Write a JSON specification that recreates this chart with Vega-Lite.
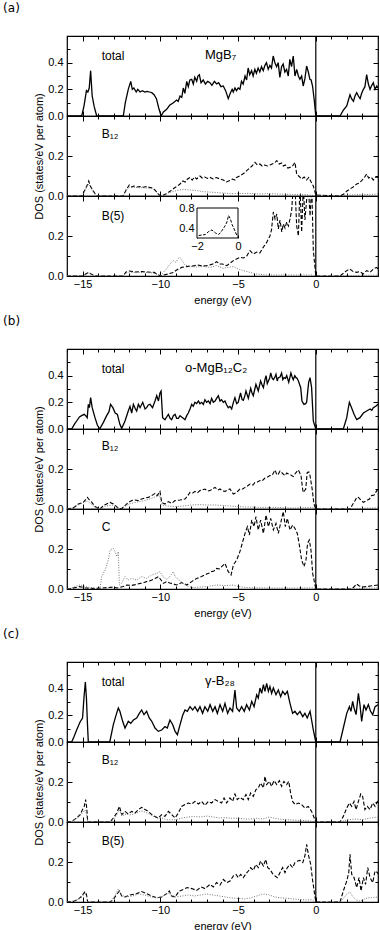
{
"$schema": "https://vega.github.io/schema/vega-lite/v6.json",
"padding": {"left": 3, "top": 1, "right": 2, "bottom": 0},
"spacing": 8,
"config": {
  "view": {"stroke": "black", "strokeWidth": 1.2},
  "axis": {"grid": false, "domain": false, "minExtent": 0, "tickColor": "black", "tickWidth": 1, "labelColor": "black", "labelFont": "Liberation Sans", "labelFontSize": 11, "titleFont": "Liberation Sans", "titleFontSize": 11, "titleFontWeight": "normal", "titleColor": "black"},
  "text": {"font": "Liberation Sans", "fontSize": 12, "color": "black"},
  "title": {"font": "DejaVu Sans", "fontSize": 12, "fontWeight": "normal", "color": "black"}
},
"datasets": {
"a_tot": [{"e":-16,"v":0},{"e":-15.05,"v":0},{"e":-14.9,"v":0.08},{"e":-14.75,"v":0.19},{"e":-14.66,"v":0.18},{"e":-14.57,"v":0.21},{"e":-14.48,"v":0.34},{"e":-14.38,"v":0.15},{"e":-14.25,"v":0.07},{"e":-14.09,"v":0},{"e":-12.38,"v":0},{"e":-12.25,"v":0.1},{"e":-12.06,"v":0.2},{"e":-11.9,"v":0.26},{"e":-11.8,"v":0.2},{"e":-11.7,"v":0.21},{"e":-11.55,"v":0.18},{"e":-11.45,"v":0.2},{"e":-11.3,"v":0.18},{"e":-11.15,"v":0.19},{"e":-11.0,"v":0.18},{"e":-10.85,"v":0.185},{"e":-10.7,"v":0.18},{"e":-10.55,"v":0.175},{"e":-10.4,"v":0.16},{"e":-10.25,"v":0.13},{"e":-10.1,"v":0.06},{"e":-9.95,"v":0},{"e":-9.8,"v":0.03},{"e":-9.59,"v":0.05},{"e":-9.4,"v":0.08},{"e":-9.16,"v":0.1},{"e":-8.95,"v":0.12},{"e":-8.85,"v":0.11},{"e":-8.73,"v":0.15},{"e":-8.62,"v":0.14},{"e":-8.52,"v":0.21},{"e":-8.42,"v":0.17},{"e":-8.3,"v":0.26},{"e":-8.2,"v":0.22},{"e":-8.1,"v":0.27},{"e":-7.98,"v":0.275},{"e":-7.88,"v":0.24},{"e":-7.78,"v":0.29},{"e":-7.66,"v":0.26},{"e":-7.58,"v":0.3},{"e":-7.49,"v":0.31},{"e":-7.38,"v":0.25},{"e":-7.24,"v":0.27},{"e":-7.1,"v":0.24},{"e":-6.95,"v":0.26},{"e":-6.81,"v":0.25},{"e":-6.68,"v":0.23},{"e":-6.52,"v":0.26},{"e":-6.38,"v":0.24},{"e":-6.25,"v":0.25},{"e":-6.1,"v":0.22},{"e":-5.95,"v":0.225},{"e":-5.8,"v":0.19},{"e":-5.63,"v":0.13},{"e":-5.5,"v":0.17},{"e":-5.38,"v":0.2},{"e":-5.31,"v":0.18},{"e":-5.2,"v":0.21},{"e":-5.1,"v":0.19},{"e":-4.99,"v":0.21},{"e":-4.88,"v":0.2},{"e":-4.78,"v":0.26},{"e":-4.67,"v":0.24},{"e":-4.55,"v":0.3},{"e":-4.45,"v":0.27},{"e":-4.35,"v":0.36},{"e":-4.25,"v":0.31},{"e":-4.13,"v":0.34},{"e":-4.03,"v":0.3},{"e":-3.92,"v":0.35},{"e":-3.82,"v":0.32},{"e":-3.71,"v":0.36},{"e":-3.6,"v":0.33},{"e":-3.49,"v":0.37},{"e":-3.38,"v":0.34},{"e":-3.27,"v":0.38},{"e":-3.17,"v":0.4},{"e":-3.06,"v":0.35},{"e":-2.95,"v":0.38},{"e":-2.85,"v":0.36},{"e":-2.74,"v":0.45},{"e":-2.63,"v":0.4},{"e":-2.52,"v":0.37},{"e":-2.42,"v":0.4},{"e":-2.31,"v":0.29},{"e":-2.2,"v":0.37},{"e":-2.1,"v":0.39},{"e":-1.99,"v":0.33},{"e":-1.88,"v":0.35},{"e":-1.77,"v":0.3},{"e":-1.67,"v":0.425},{"e":-1.56,"v":0.37},{"e":-1.45,"v":0.45},{"e":-1.34,"v":0.3},{"e":-1.23,"v":0.35},{"e":-1.12,"v":0.3},{"e":-1.02,"v":0.275},{"e":-0.91,"v":0.3},{"e":-0.81,"v":0.225},{"e":-0.7,"v":0.28},{"e":-0.59,"v":0.375},{"e":-0.48,"v":0.33},{"e":-0.38,"v":0.275},{"e":-0.3,"v":0.27},{"e":-0.21,"v":0.225},{"e":-0.1,"v":0.12},{"e":0,"v":0},{"e":1.56,"v":0},{"e":1.75,"v":0.04},{"e":1.99,"v":0.075},{"e":2.1,"v":0.12},{"e":2.2,"v":0.16},{"e":2.3,"v":0.13},{"e":2.42,"v":0.11},{"e":2.52,"v":0.15},{"e":2.63,"v":0.175},{"e":2.74,"v":0.15},{"e":2.85,"v":0.13},{"e":2.95,"v":0.17},{"e":3.06,"v":0.2},{"e":3.16,"v":0.22},{"e":3.27,"v":0.31},{"e":3.38,"v":0.24},{"e":3.49,"v":0.2},{"e":3.6,"v":0.23},{"e":3.7,"v":0.25},{"e":3.81,"v":0.2},{"e":3.92,"v":0.225},{"e":4,"v":0.21}],
"a_b12_d": [{"e":-16,"v":0},{"e":-15.05,"v":0},{"e":-14.85,"v":0.03},{"e":-14.7,"v":0.055},{"e":-14.6,"v":0.075},{"e":-14.5,"v":0.05},{"e":-14.35,"v":0.03},{"e":-14.1,"v":0},{"e":-12.4,"v":0},{"e":-12.2,"v":0.03},{"e":-12.0,"v":0.055},{"e":-11.85,"v":0.045},{"e":-11.7,"v":0.05},{"e":-11.5,"v":0.045},{"e":-11.3,"v":0.047},{"e":-11.1,"v":0.044},{"e":-10.9,"v":0.047},{"e":-10.7,"v":0.043},{"e":-10.5,"v":0.04},{"e":-10.35,"v":0.03},{"e":-10.15,"v":0.012},{"e":-10.0,"v":0},{"e":-9.8,"v":0.005},{"e":-9.59,"v":0.012},{"e":-9.35,"v":0.025},{"e":-9.1,"v":0.04},{"e":-8.9,"v":0.05},{"e":-8.73,"v":0.06},{"e":-8.55,"v":0.075},{"e":-8.4,"v":0.07},{"e":-8.25,"v":0.085},{"e":-8.09,"v":0.093},{"e":-7.95,"v":0.08},{"e":-7.8,"v":0.095},{"e":-7.66,"v":0.085},{"e":-7.45,"v":0.1},{"e":-7.3,"v":0.09},{"e":-7.15,"v":0.095},{"e":-6.95,"v":0.088},{"e":-6.8,"v":0.093},{"e":-6.6,"v":0.085},{"e":-6.4,"v":0.092},{"e":-6.16,"v":0.085},{"e":-5.95,"v":0.08},{"e":-5.75,"v":0.07},{"e":-5.52,"v":0.077},{"e":-5.35,"v":0.085},{"e":-5.2,"v":0.08},{"e":-5.09,"v":0.093},{"e":-4.9,"v":0.1},{"e":-4.7,"v":0.11},{"e":-4.55,"v":0.118},{"e":-4.44,"v":0.127},{"e":-4.25,"v":0.14},{"e":-4.1,"v":0.15},{"e":-3.91,"v":0.168},{"e":-3.75,"v":0.155},{"e":-3.6,"v":0.16},{"e":-3.45,"v":0.15},{"e":-3.3,"v":0.155},{"e":-3.1,"v":0.15},{"e":-2.95,"v":0.155},{"e":-2.8,"v":0.16},{"e":-2.65,"v":0.165},{"e":-2.51,"v":0.177},{"e":-2.35,"v":0.16},{"e":-2.2,"v":0.165},{"e":-2.09,"v":0.15},{"e":-1.95,"v":0.155},{"e":-1.8,"v":0.14},{"e":-1.66,"v":0.143},{"e":-1.5,"v":0.15},{"e":-1.34,"v":0.168},{"e":-1.23,"v":0.11},{"e":-1.1,"v":0.1},{"e":-0.91,"v":0.085},{"e":-0.75,"v":0.095},{"e":-0.6,"v":0.08},{"e":-0.45,"v":0.093},{"e":-0.3,"v":0.07},{"e":-0.16,"v":0.05},{"e":0,"v":0.005},{"e":1.56,"v":0},{"e":1.8,"v":0.01},{"e":2.0,"v":0.025},{"e":2.2,"v":0.035},{"e":2.4,"v":0.045},{"e":2.63,"v":0.06},{"e":2.8,"v":0.065},{"e":2.95,"v":0.077},{"e":3.1,"v":0.09},{"e":3.27,"v":0.11},{"e":3.4,"v":0.09},{"e":3.55,"v":0.095},{"e":3.7,"v":0.08},{"e":3.85,"v":0.095},{"e":4.0,"v":0.093}],
"a_b12_t": [{"e":-16,"v":0},{"e":-15.05,"v":0},{"e":-14.85,"v":0.025},{"e":-14.7,"v":0.05},{"e":-14.6,"v":0.06},{"e":-14.5,"v":0.045},{"e":-14.35,"v":0.025},{"e":-14.1,"v":0},{"e":-12.4,"v":0},{"e":-12.2,"v":0.025},{"e":-12.0,"v":0.045},{"e":-11.7,"v":0.043},{"e":-11.3,"v":0.042},{"e":-10.9,"v":0.04},{"e":-10.6,"v":0.038},{"e":-10.4,"v":0.03},{"e":-10.15,"v":0.01},{"e":-10.0,"v":0},{"e":-9.7,"v":0.01},{"e":-9.3,"v":0.02},{"e":-8.9,"v":0.028},{"e":-8.5,"v":0.033},{"e":-8.1,"v":0.03},{"e":-7.7,"v":0.028},{"e":-7.3,"v":0.022},{"e":-6.9,"v":0.02},{"e":-6.5,"v":0.018},{"e":-6.0,"v":0.015},{"e":-5.5,"v":0.012},{"e":-5.0,"v":0.012},{"e":-4.5,"v":0.013},{"e":-4.0,"v":0.012},{"e":-3.5,"v":0.01},{"e":-3.0,"v":0.012},{"e":-2.5,"v":0.01},{"e":-2.0,"v":0.009},{"e":-1.5,"v":0.008},{"e":-1.0,"v":0.007},{"e":-0.5,"v":0.006},{"e":0,"v":0},{"e":1.56,"v":0},{"e":2.0,"v":0.004},{"e":2.5,"v":0.006},{"e":3.0,"v":0.008},{"e":3.5,"v":0.007},{"e":4.0,"v":0.01}],
"a_b5_d": [{"e":-16,"v":0},{"e":-15.0,"v":0},{"e":-14.75,"v":0.012},{"e":-14.6,"v":0.018},{"e":-14.45,"v":0.01},{"e":-14.2,"v":0},{"e":-12.4,"v":0},{"e":-12.2,"v":0.02},{"e":-12.0,"v":0.025},{"e":-11.6,"v":0.02},{"e":-11.2,"v":0.022},{"e":-10.8,"v":0.02},{"e":-10.4,"v":0.018},{"e":-10.15,"v":0.008},{"e":-10.0,"v":0},{"e":-9.81,"v":0.005},{"e":-9.5,"v":0.01},{"e":-9.16,"v":0.018},{"e":-8.95,"v":0.03},{"e":-8.84,"v":0.035},{"e":-8.62,"v":0.043},{"e":-8.45,"v":0.045},{"e":-8.2,"v":0.048},{"e":-7.9,"v":0.05},{"e":-7.6,"v":0.055},{"e":-7.3,"v":0.05},{"e":-7.0,"v":0.052},{"e":-6.7,"v":0.058},{"e":-6.5,"v":0.065},{"e":-6.37,"v":0.072},{"e":-6.2,"v":0.06},{"e":-6.0,"v":0.06},{"e":-5.73,"v":0.052},{"e":-5.5,"v":0.065},{"e":-5.3,"v":0.077},{"e":-5.1,"v":0.085},{"e":-4.87,"v":0.093},{"e":-4.65,"v":0.09},{"e":-4.44,"v":0.1},{"e":-4.23,"v":0.127},{"e":-4.02,"v":0.11},{"e":-3.8,"v":0.12},{"e":-3.6,"v":0.115},{"e":-3.38,"v":0.143},{"e":-3.16,"v":0.168},{"e":-2.95,"v":0.2},{"e":-2.85,"v":0.23},{"e":-2.73,"v":0.32},{"e":-2.62,"v":0.285},{"e":-2.51,"v":0.31},{"e":-2.41,"v":0.235},{"e":-2.3,"v":0.28},{"e":-2.19,"v":0.22},{"e":-2.09,"v":0.26},{"e":-1.98,"v":0.24},{"e":-1.87,"v":0.27},{"e":-1.76,"v":0.25},{"e":-1.66,"v":0.285},{"e":-1.55,"v":0.33},{"e":-1.45,"v":0.45},{"e":-1.34,"v":0.45},{"e":-1.23,"v":0.25},{"e":-1.12,"v":0.2},{"e":-1.02,"v":0.45},{"e":-0.91,"v":0.22},{"e":-0.8,"v":0.45},{"e":-0.7,"v":0.28},{"e":-0.59,"v":0.38},{"e":-0.48,"v":0.45},{"e":-0.37,"v":0.3},{"e":-0.26,"v":0.45},{"e":-0.16,"v":0.13},{"e":0,"v":0},{"e":1.56,"v":0},{"e":1.99,"v":0.027},{"e":2.2,"v":0.035},{"e":2.4,"v":0.022},{"e":2.63,"v":0.018},{"e":2.84,"v":0.022},{"e":3.06,"v":0.01},{"e":3.27,"v":0.027},{"e":3.49,"v":0.018},{"e":3.7,"v":0.035},{"e":3.92,"v":0.043},{"e":4.0,"v":0.035}],
"a_b5_t": [{"e":-16,"v":0},{"e":-15.0,"v":0},{"e":-14.75,"v":0.01},{"e":-14.6,"v":0.018},{"e":-14.45,"v":0.008},{"e":-14.2,"v":0},{"e":-12.4,"v":0},{"e":-12.2,"v":0.015},{"e":-12.0,"v":0.02},{"e":-11.5,"v":0.017},{"e":-11.0,"v":0.018},{"e":-10.5,"v":0.015},{"e":-10.2,"v":0.008},{"e":-10.0,"v":0},{"e":-9.81,"v":0.018},{"e":-9.6,"v":0.035},{"e":-9.38,"v":0.06},{"e":-9.16,"v":0.077},{"e":-9.0,"v":0.068},{"e":-8.84,"v":0.088},{"e":-8.73,"v":0.093},{"e":-8.6,"v":0.077},{"e":-8.41,"v":0.055},{"e":-8.1,"v":0.048},{"e":-7.66,"v":0.045},{"e":-7.24,"v":0.048},{"e":-6.8,"v":0.043},{"e":-6.38,"v":0.052},{"e":-5.95,"v":0.038},{"e":-5.73,"v":0.043},{"e":-5.3,"v":0.047},{"e":-4.98,"v":0.035},{"e":-4.66,"v":0.027},{"e":-4.23,"v":0.018},{"e":-3.8,"v":0.01},{"e":-3.16,"v":0.005},{"e":-2,"v":0.005},{"e":-1,"v":0.005},{"e":-0.2,"v":0.005},{"e":0,"v":0},{"e":1.56,"v":0},{"e":2.5,"v":0.003},{"e":4,"v":0.004}],
"a_inset": [{"e":-1.92,"v":0.25},{"e":-1.76,"v":0.26},{"e":-1.59,"v":0.27},{"e":-1.43,"v":0.33},{"e":-1.27,"v":0.36},{"e":-1.1,"v":0.3},{"e":-0.94,"v":0.27},{"e":-0.83,"v":0.32},{"e":-0.73,"v":0.38},{"e":-0.62,"v":0.45},{"e":-0.54,"v":0.52},{"e":-0.46,"v":0.65},{"e":-0.37,"v":0.58},{"e":-0.29,"v":0.47},{"e":-0.21,"v":0.4},{"e":-0.13,"v":0.32},{"e":-0.05,"v":0.25}],
"b_tot": [{"e":-16,"v":0},{"e":-15.7,"v":0},{"e":-15.5,"v":0.04},{"e":-15.38,"v":0.06},{"e":-15.2,"v":0.09},{"e":-15.06,"v":0.1},{"e":-14.9,"v":0.11},{"e":-14.8,"v":0.1},{"e":-14.7,"v":0.085},{"e":-14.63,"v":0.185},{"e":-14.56,"v":0.16},{"e":-14.48,"v":0.235},{"e":-14.38,"v":0.16},{"e":-14.2,"v":0.085},{"e":-14.05,"v":0.03},{"e":-13.9,"v":0},{"e":-13.66,"v":0.05},{"e":-13.45,"v":0.1},{"e":-13.3,"v":0.13},{"e":-13.2,"v":0.185},{"e":-13.05,"v":0.16},{"e":-12.9,"v":0.12},{"e":-12.76,"v":0.11},{"e":-12.6,"v":0.035},{"e":-12.48,"v":0.005},{"e":-12.27,"v":0.06},{"e":-12.06,"v":0.135},{"e":-11.95,"v":0.17},{"e":-11.84,"v":0.12},{"e":-11.73,"v":0.185},{"e":-11.6,"v":0.15},{"e":-11.52,"v":0.135},{"e":-11.41,"v":0.185},{"e":-11.3,"v":0.16},{"e":-11.13,"v":0.2},{"e":-10.98,"v":0.15},{"e":-10.88,"v":0.16},{"e":-10.77,"v":0.18},{"e":-10.66,"v":0.185},{"e":-10.5,"v":0.16},{"e":-10.34,"v":0.21},{"e":-10.23,"v":0.25},{"e":-10.12,"v":0.21},{"e":-10.02,"v":0.27},{"e":-9.95,"v":0.285},{"e":-9.85,"v":0.085},{"e":-9.7,"v":0.07},{"e":-9.59,"v":0.09},{"e":-9.48,"v":0.11},{"e":-9.37,"v":0.08},{"e":-9.27,"v":0.07},{"e":-9.16,"v":0.1},{"e":-9.05,"v":0.11},{"e":-8.95,"v":0.08},{"e":-8.84,"v":0.08},{"e":-8.73,"v":0.1},{"e":-8.63,"v":0.09},{"e":-8.52,"v":0.08},{"e":-8.41,"v":0.07},{"e":-8.3,"v":0.1},{"e":-8.2,"v":0.12},{"e":-8.09,"v":0.15},{"e":-7.98,"v":0.185},{"e":-7.88,"v":0.17},{"e":-7.77,"v":0.2},{"e":-7.66,"v":0.19},{"e":-7.55,"v":0.21},{"e":-7.45,"v":0.19},{"e":-7.34,"v":0.2},{"e":-7.23,"v":0.185},{"e":-7.13,"v":0.22},{"e":-7.02,"v":0.2},{"e":-6.91,"v":0.21},{"e":-6.8,"v":0.19},{"e":-6.7,"v":0.23},{"e":-6.59,"v":0.2},{"e":-6.48,"v":0.21},{"e":-6.38,"v":0.23},{"e":-6.27,"v":0.25},{"e":-6.16,"v":0.21},{"e":-6.06,"v":0.22},{"e":-5.95,"v":0.2},{"e":-5.84,"v":0.21},{"e":-5.73,"v":0.18},{"e":-5.63,"v":0.16},{"e":-5.52,"v":0.17},{"e":-5.41,"v":0.15},{"e":-5.3,"v":0.2},{"e":-5.2,"v":0.235},{"e":-5.09,"v":0.19},{"e":-4.99,"v":0.2},{"e":-4.84,"v":0.27},{"e":-4.74,"v":0.22},{"e":-4.66,"v":0.215},{"e":-4.56,"v":0.25},{"e":-4.49,"v":0.285},{"e":-4.34,"v":0.23},{"e":-4.19,"v":0.305},{"e":-4.1,"v":0.27},{"e":-4.02,"v":0.25},{"e":-3.92,"v":0.3},{"e":-3.85,"v":0.335},{"e":-3.7,"v":0.285},{"e":-3.55,"v":0.36},{"e":-3.45,"v":0.33},{"e":-3.37,"v":0.31},{"e":-3.27,"v":0.37},{"e":-3.2,"v":0.4},{"e":-3.12,"v":0.34},{"e":-3.05,"v":0.36},{"e":-2.97,"v":0.38},{"e":-2.9,"v":0.42},{"e":-2.8,"v":0.38},{"e":-2.73,"v":0.37},{"e":-2.63,"v":0.39},{"e":-2.56,"v":0.41},{"e":-2.48,"v":0.36},{"e":-2.41,"v":0.385},{"e":-2.3,"v":0.39},{"e":-2.2,"v":0.42},{"e":-2.12,"v":0.37},{"e":-2.05,"v":0.385},{"e":-1.95,"v":0.38},{"e":-1.87,"v":0.4},{"e":-1.74,"v":0.35},{"e":-1.6,"v":0.42},{"e":-1.52,"v":0.39},{"e":-1.45,"v":0.37},{"e":-1.35,"v":0.4},{"e":-1.27,"v":0.385},{"e":-1.2,"v":0.38},{"e":-1.12,"v":0.36},{"e":-0.97,"v":0.31},{"e":-0.89,"v":0.21},{"e":-0.76,"v":0.185},{"e":-0.65,"v":0.19},{"e":-0.59,"v":0.2},{"e":-0.46,"v":0.35},{"e":-0.37,"v":0.385},{"e":-0.27,"v":0.31},{"e":-0.16,"v":0.06},{"e":0,"v":0},{"e":1.77,"v":0},{"e":1.99,"v":0.085},{"e":2.08,"v":0.15},{"e":2.16,"v":0.2},{"e":2.3,"v":0.16},{"e":2.46,"v":0.11},{"e":2.63,"v":0.07},{"e":2.84,"v":0.085},{"e":3.06,"v":0.12},{"e":3.27,"v":0.135},{"e":3.49,"v":0.15},{"e":3.6,"v":0.14},{"e":3.7,"v":0.16},{"e":3.85,"v":0.17},{"e":4.0,"v":0.185}],
"b_b12_d": [{"e":-16,"v":0},{"e":-15.6,"v":0.005},{"e":-15.27,"v":0.025},{"e":-14.95,"v":0.033},{"e":-14.69,"v":0.058},{"e":-14.56,"v":0.045},{"e":-14.4,"v":0.033},{"e":-14.2,"v":0.012},{"e":-13.88,"v":0},{"e":-13.66,"v":0.017},{"e":-13.45,"v":0.025},{"e":-13.23,"v":0.033},{"e":-13.02,"v":0.025},{"e":-12.7,"v":0.005},{"e":-12.5,"v":0},{"e":-12.27,"v":0.017},{"e":-12.06,"v":0.033},{"e":-11.84,"v":0.042},{"e":-11.63,"v":0.045},{"e":-11.41,"v":0.042},{"e":-11.2,"v":0.05},{"e":-10.98,"v":0.055},{"e":-10.77,"v":0.058},{"e":-10.55,"v":0.067},{"e":-10.34,"v":0.078},{"e":-10.2,"v":0.067},{"e":-10.02,"v":0.088},{"e":-9.91,"v":0.033},{"e":-9.7,"v":0.025},{"e":-9.48,"v":0.037},{"e":-9.27,"v":0.028},{"e":-9.05,"v":0.042},{"e":-8.73,"v":0.045},{"e":-8.41,"v":0.05},{"e":-8.25,"v":0.065},{"e":-8.09,"v":0.083},{"e":-7.9,"v":0.08},{"e":-7.77,"v":0.088},{"e":-7.6,"v":0.082},{"e":-7.45,"v":0.092},{"e":-7.3,"v":0.095},{"e":-7.13,"v":0.1},{"e":-6.95,"v":0.09},{"e":-6.8,"v":0.092},{"e":-6.65,"v":0.1},{"e":-6.48,"v":0.108},{"e":-6.3,"v":0.095},{"e":-6.16,"v":0.1},{"e":-6.0,"v":0.09},{"e":-5.84,"v":0.088},{"e":-5.68,"v":0.095},{"e":-5.52,"v":0.1},{"e":-5.4,"v":0.085},{"e":-5.3,"v":0.075},{"e":-5.09,"v":0.083},{"e":-4.88,"v":0.1},{"e":-4.7,"v":0.1},{"e":-4.55,"v":0.108},{"e":-4.4,"v":0.115},{"e":-4.23,"v":0.125},{"e":-4.05,"v":0.12},{"e":-3.91,"v":0.133},{"e":-3.75,"v":0.135},{"e":-3.59,"v":0.142},{"e":-3.45,"v":0.14},{"e":-3.27,"v":0.155},{"e":-3.1,"v":0.16},{"e":-2.95,"v":0.167},{"e":-2.8,"v":0.17},{"e":-2.62,"v":0.195},{"e":-2.5,"v":0.17},{"e":-2.41,"v":0.175},{"e":-2.3,"v":0.19},{"e":-2.2,"v":0.183},{"e":-2.1,"v":0.175},{"e":-1.98,"v":0.167},{"e":-1.87,"v":0.18},{"e":-1.76,"v":0.175},{"e":-1.6,"v":0.17},{"e":-1.45,"v":0.162},{"e":-1.3,"v":0.18},{"e":-1.12,"v":0.195},{"e":-0.95,"v":0.167},{"e":-0.85,"v":0.1},{"e":-0.8,"v":0.083},{"e":-0.65,"v":0.1},{"e":-0.55,"v":0.183},{"e":-0.45,"v":0.185},{"e":-0.37,"v":0.167},{"e":-0.22,"v":0.092},{"e":-0.12,"v":0.025},{"e":0,"v":0},{"e":2.2,"v":0},{"e":2.35,"v":0.02},{"e":2.52,"v":0.042},{"e":2.65,"v":0.06},{"e":2.74,"v":0.058},{"e":2.9,"v":0.045},{"e":3.06,"v":0.033},{"e":3.27,"v":0.042},{"e":3.45,"v":0.05},{"e":3.59,"v":0.067},{"e":3.75,"v":0.07},{"e":3.92,"v":0.092},{"e":4.0,"v":0.1}],
"b_b12_t": [{"e":-16,"v":0},{"e":-15.6,"v":0.005},{"e":-15.3,"v":0.02},{"e":-14.7,"v":0.04},{"e":-14.2,"v":0.01},{"e":-13.9,"v":0},{"e":-13.5,"v":0.015},{"e":-13.1,"v":0.02},{"e":-12.6,"v":0},{"e":-12.0,"v":0.025},{"e":-11.5,"v":0.035},{"e":-11.0,"v":0.042},{"e":-10.5,"v":0.055},{"e":-10.2,"v":0.065},{"e":-10.05,"v":0.07},{"e":-9.9,"v":0.02},{"e":-9.5,"v":0.015},{"e":-9.0,"v":0.012},{"e":-8.5,"v":0.015},{"e":-8.0,"v":0.02},{"e":-7.5,"v":0.022},{"e":-7.0,"v":0.02},{"e":-6.5,"v":0.02},{"e":-6.0,"v":0.018},{"e":-5.5,"v":0.015},{"e":-5.0,"v":0.012},{"e":-4.5,"v":0.01},{"e":-4.0,"v":0.01},{"e":-3.5,"v":0.008},{"e":-3.0,"v":0.008},{"e":-2.5,"v":0.008},{"e":-2.0,"v":0.006},{"e":-1.5,"v":0.005},{"e":-1.0,"v":0.005},{"e":-0.5,"v":0.008},{"e":-0.2,"v":0.008},{"e":0,"v":0},{"e":2.2,"v":0},{"e":3,"v":0.004},{"e":4,"v":0.006}],
"b_c_d": [{"e":-16,"v":0},{"e":-15.7,"v":0.003},{"e":-15.2,"v":0.012},{"e":-14.8,"v":0.005},{"e":-14.2,"v":0.003},{"e":-13.7,"v":0.005},{"e":-13.0,"v":0.01},{"e":-12.8,"v":0.005},{"e":-12.6,"v":0.008},{"e":-12.38,"v":0.012},{"e":-12.15,"v":0.02},{"e":-11.84,"v":0.018},{"e":-11.6,"v":0.022},{"e":-11.3,"v":0.028},{"e":-11.1,"v":0.03},{"e":-10.88,"v":0.037},{"e":-10.7,"v":0.04},{"e":-10.55,"v":0.045},{"e":-10.34,"v":0.053},{"e":-10.12,"v":0.062},{"e":-10.0,"v":0.05},{"e":-9.8,"v":0.028},{"e":-9.59,"v":0.037},{"e":-9.4,"v":0.03},{"e":-9.27,"v":0.028},{"e":-8.95,"v":0.02},{"e":-8.63,"v":0.032},{"e":-8.3,"v":0.02},{"e":-7.98,"v":0.037},{"e":-7.66,"v":0.053},{"e":-7.5,"v":0.058},{"e":-7.34,"v":0.062},{"e":-7.15,"v":0.07},{"e":-7.02,"v":0.075},{"e":-6.85,"v":0.08},{"e":-6.7,"v":0.087},{"e":-6.55,"v":0.09},{"e":-6.38,"v":0.103},{"e":-6.2,"v":0.1},{"e":-6.05,"v":0.112},{"e":-5.84,"v":0.128},{"e":-5.63,"v":0.087},{"e":-5.45,"v":0.07},{"e":-5.3,"v":0.12},{"e":-5.09,"v":0.145},{"e":-4.88,"v":0.187},{"e":-4.7,"v":0.237},{"e":-4.55,"v":0.278},{"e":-4.4,"v":0.312},{"e":-4.27,"v":0.27},{"e":-4.12,"v":0.345},{"e":-3.97,"v":0.312},{"e":-3.85,"v":0.362},{"e":-3.7,"v":0.295},{"e":-3.55,"v":0.345},{"e":-3.37,"v":0.278},{"e":-3.2,"v":0.37},{"e":-3.05,"v":0.312},{"e":-2.9,"v":0.353},{"e":-2.73,"v":0.295},{"e":-2.56,"v":0.328},{"e":-2.41,"v":0.278},{"e":-2.24,"v":0.337},{"e":-2.09,"v":0.387},{"e":-1.96,"v":0.312},{"e":-1.83,"v":0.353},{"e":-1.66,"v":0.295},{"e":-1.49,"v":0.32},{"e":-1.34,"v":0.303},{"e":-1.19,"v":0.278},{"e":-1.06,"v":0.22},{"e":-0.91,"v":0.145},{"e":-0.76,"v":0.112},{"e":-0.63,"v":0.145},{"e":-0.53,"v":0.228},{"e":-0.42,"v":0.245},{"e":-0.31,"v":0.195},{"e":-0.2,"v":0.078},{"e":0,"v":0},{"e":2.3,"v":0},{"e":2.45,"v":0.01},{"e":2.63,"v":0.025},{"e":2.8,"v":0.015},{"e":3.0,"v":0.01},{"e":3.27,"v":0.012},{"e":3.5,"v":0.015},{"e":3.7,"v":0.017},{"e":4.0,"v":0.02}],
"b_c_t": [{"e":-16,"v":0},{"e":-15.7,"v":0.005},{"e":-15.4,"v":0.015},{"e":-15.16,"v":0.02},{"e":-14.8,"v":0.012},{"e":-14.2,"v":0.003},{"e":-13.88,"v":0.003},{"e":-13.77,"v":0.062},{"e":-13.55,"v":0.095},{"e":-13.34,"v":0.145},{"e":-13.23,"v":0.195},{"e":-13.1,"v":0.2},{"e":-13.02,"v":0.203},{"e":-12.91,"v":0.187},{"e":-12.8,"v":0.162},{"e":-12.7,"v":0.187},{"e":-12.63,"v":0.02},{"e":-12.5,"v":0.028},{"e":-12.27,"v":0.062},{"e":-12.06,"v":0.045},{"e":-11.84,"v":0.053},{"e":-11.52,"v":0.045},{"e":-11.2,"v":0.062},{"e":-10.88,"v":0.053},{"e":-10.55,"v":0.07},{"e":-10.23,"v":0.078},{"e":-10.02,"v":0.087},{"e":-9.85,"v":0.062},{"e":-9.59,"v":0.048},{"e":-9.38,"v":0.062},{"e":-9.16,"v":0.087},{"e":-9.05,"v":0.062},{"e":-8.84,"v":0.048},{"e":-8.52,"v":0.028},{"e":-8.2,"v":0.012},{"e":-7.88,"v":0.007},{"e":-7.02,"v":0.012},{"e":-6.38,"v":0.02},{"e":-5.73,"v":0.017},{"e":-5.3,"v":0.02},{"e":-4.98,"v":0.012},{"e":-4.44,"v":0.007},{"e":-3,"v":0.005},{"e":-1,"v":0.005},{"e":-0.2,"v":0.006},{"e":0,"v":0},{"e":2.3,"v":0},{"e":3,"v":0.004},{"e":4,"v":0.005}],
"c_tot": [{"e":-16,"v":0},{"e":-15.7,"v":0},{"e":-15.55,"v":0.04},{"e":-15.38,"v":0.09},{"e":-15.16,"v":0.15},{"e":-15.0,"v":0.18},{"e":-14.91,"v":0.33},{"e":-14.82,"v":0.45},{"e":-14.75,"v":0.33},{"e":-14.69,"v":0.15},{"e":-14.63,"v":0},{"e":-13.25,"v":0},{"e":-13.02,"v":0.13},{"e":-12.85,"v":0.2},{"e":-12.7,"v":0.255},{"e":-12.6,"v":0.23},{"e":-12.42,"v":0.155},{"e":-12.27,"v":0.105},{"e":-12.16,"v":0.13},{"e":-12.06,"v":0.155},{"e":-11.9,"v":0.14},{"e":-11.73,"v":0.165},{"e":-11.52,"v":0.18},{"e":-11.35,"v":0.215},{"e":-11.2,"v":0.24},{"e":-11.05,"v":0.205},{"e":-10.88,"v":0.23},{"e":-10.71,"v":0.18},{"e":-10.55,"v":0.155},{"e":-10.34,"v":0.105},{"e":-10.13,"v":0.08},{"e":-9.91,"v":0.09},{"e":-9.7,"v":0.115},{"e":-9.55,"v":0.105},{"e":-9.38,"v":0.165},{"e":-9.2,"v":0.13},{"e":-9.05,"v":0.08},{"e":-8.9,"v":0.055},{"e":-8.73,"v":0.13},{"e":-8.56,"v":0.2},{"e":-8.41,"v":0.24},{"e":-8.26,"v":0.23},{"e":-8.09,"v":0.265},{"e":-7.92,"v":0.24},{"e":-7.77,"v":0.265},{"e":-7.6,"v":0.23},{"e":-7.45,"v":0.265},{"e":-7.28,"v":0.215},{"e":-7.13,"v":0.265},{"e":-6.95,"v":0.23},{"e":-6.8,"v":0.28},{"e":-6.63,"v":0.23},{"e":-6.48,"v":0.265},{"e":-6.33,"v":0.215},{"e":-6.16,"v":0.28},{"e":-5.99,"v":0.23},{"e":-5.84,"v":0.29},{"e":-5.67,"v":0.215},{"e":-5.52,"v":0.255},{"e":-5.35,"v":0.23},{"e":-5.2,"v":0.39},{"e":-5.09,"v":0.255},{"e":-4.92,"v":0.23},{"e":-4.77,"v":0.265},{"e":-4.6,"v":0.23},{"e":-4.45,"v":0.28},{"e":-4.27,"v":0.24},{"e":-4.12,"v":0.305},{"e":-3.97,"v":0.265},{"e":-3.8,"v":0.355},{"e":-3.7,"v":0.33},{"e":-3.59,"v":0.405},{"e":-3.48,"v":0.365},{"e":-3.37,"v":0.43},{"e":-3.27,"v":0.38},{"e":-3.16,"v":0.44},{"e":-3.05,"v":0.38},{"e":-2.95,"v":0.415},{"e":-2.84,"v":0.365},{"e":-2.73,"v":0.405},{"e":-2.56,"v":0.355},{"e":-2.41,"v":0.39},{"e":-2.26,"v":0.34},{"e":-2.13,"v":0.38},{"e":-1.98,"v":0.355},{"e":-1.83,"v":0.38},{"e":-1.66,"v":0.29},{"e":-1.49,"v":0.215},{"e":-1.34,"v":0.23},{"e":-1.19,"v":0.205},{"e":-1.02,"v":0.23},{"e":-0.84,"v":0.19},{"e":-0.7,"v":0.215},{"e":-0.55,"v":0.18},{"e":-0.37,"v":0.23},{"e":-0.27,"v":0.165},{"e":-0.16,"v":0.09},{"e":0,"v":0},{"e":1.56,"v":0},{"e":1.77,"v":0.105},{"e":1.99,"v":0.215},{"e":2.16,"v":0.265},{"e":2.26,"v":0.23},{"e":2.37,"v":0.305},{"e":2.46,"v":0.255},{"e":2.59,"v":0.205},{"e":2.74,"v":0.365},{"e":2.84,"v":0.28},{"e":2.95,"v":0.155},{"e":3.1,"v":0.28},{"e":3.23,"v":0.24},{"e":3.38,"v":0.28},{"e":3.52,"v":0.23},{"e":3.66,"v":0.205},{"e":3.81,"v":0.265},{"e":4.0,"v":0.28}],
"c_b12_d": [{"e":-16,"v":0},{"e":-15.7,"v":0.003},{"e":-15.38,"v":0.02},{"e":-15.16,"v":0.037},{"e":-15.0,"v":0.062},{"e":-14.89,"v":0.078},{"e":-14.8,"v":0.112},{"e":-14.73,"v":0.07},{"e":-14.67,"v":0},{"e":-13.23,"v":0},{"e":-13.02,"v":0.02},{"e":-12.8,"v":0.045},{"e":-12.63,"v":0.078},{"e":-12.48,"v":0.037},{"e":-12.27,"v":0.053},{"e":-12.06,"v":0.04},{"e":-11.84,"v":0.053},{"e":-11.63,"v":0.045},{"e":-11.41,"v":0.062},{"e":-11.2,"v":0.073},{"e":-10.98,"v":0.062},{"e":-10.77,"v":0.053},{"e":-10.55,"v":0.037},{"e":-10.34,"v":0.028},{"e":-10.13,"v":0.02},{"e":-9.91,"v":0.037},{"e":-9.7,"v":0.028},{"e":-9.48,"v":0.053},{"e":-9.27,"v":0.037},{"e":-9.05,"v":0.02},{"e":-8.84,"v":0.045},{"e":-8.63,"v":0.078},{"e":-8.41,"v":0.087},{"e":-8.2,"v":0.095},{"e":-7.98,"v":0.09},{"e":-7.77,"v":0.103},{"e":-7.55,"v":0.09},{"e":-7.34,"v":0.103},{"e":-7.13,"v":0.083},{"e":-6.91,"v":0.103},{"e":-6.7,"v":0.095},{"e":-6.48,"v":0.112},{"e":-6.27,"v":0.103},{"e":-6.06,"v":0.095},{"e":-5.9,"v":0.12},{"e":-5.73,"v":0.095},{"e":-5.52,"v":0.12},{"e":-5.35,"v":0.103},{"e":-5.2,"v":0.14},{"e":-5.05,"v":0.112},{"e":-4.88,"v":0.123},{"e":-4.66,"v":0.112},{"e":-4.49,"v":0.137},{"e":-4.34,"v":0.112},{"e":-4.19,"v":0.145},{"e":-4.02,"v":0.128},{"e":-3.85,"v":0.162},{"e":-3.7,"v":0.17},{"e":-3.55,"v":0.195},{"e":-3.37,"v":0.17},{"e":-3.27,"v":0.228},{"e":-3.16,"v":0.187},{"e":-2.99,"v":0.203},{"e":-2.84,"v":0.178},{"e":-2.69,"v":0.207},{"e":-2.51,"v":0.187},{"e":-2.34,"v":0.207},{"e":-2.2,"v":0.178},{"e":-2.05,"v":0.203},{"e":-1.87,"v":0.187},{"e":-1.74,"v":0.203},{"e":-1.62,"v":0.145},{"e":-1.49,"v":0.103},{"e":-1.34,"v":0.087},{"e":-1.12,"v":0.095},{"e":-0.91,"v":0.087},{"e":-0.7,"v":0.07},{"e":-0.48,"v":0.078},{"e":-0.27,"v":0.053},{"e":-0.1,"v":0.02},{"e":0,"v":0},{"e":1.56,"v":0},{"e":1.77,"v":0.028},{"e":1.99,"v":0.07},{"e":2.16,"v":0.095},{"e":2.31,"v":0.078},{"e":2.46,"v":0.103},{"e":2.59,"v":0.062},{"e":2.74,"v":0.103},{"e":2.89,"v":0.14},{"e":3.01,"v":0.128},{"e":3.16,"v":0.062},{"e":3.31,"v":0.078},{"e":3.49,"v":0.062},{"e":3.66,"v":0.095},{"e":3.81,"v":0.078},{"e":3.96,"v":0.103},{"e":4,"v":0.1}],
"c_b12_t": [{"e":-16,"v":0},{"e":-15.7,"v":0.003},{"e":-15.3,"v":0.02},{"e":-15.0,"v":0.045},{"e":-14.85,"v":0.06},{"e":-14.75,"v":0.04},{"e":-14.67,"v":0},{"e":-13.2,"v":0},{"e":-13.0,"v":0.015},{"e":-12.8,"v":0.035},{"e":-12.63,"v":0.06},{"e":-12.45,"v":0.03},{"e":-12.2,"v":0.04},{"e":-12.0,"v":0.035},{"e":-11.7,"v":0.04},{"e":-11.4,"v":0.05},{"e":-11.2,"v":0.055},{"e":-11.0,"v":0.05},{"e":-10.7,"v":0.04},{"e":-10.4,"v":0.025},{"e":-10.1,"v":0.015},{"e":-9.9,"v":0.02},{"e":-9.6,"v":0.012},{"e":-9.3,"v":0.01},{"e":-9.0,"v":0.012},{"e":-8.6,"v":0.02},{"e":-8.2,"v":0.025},{"e":-7.8,"v":0.028},{"e":-7.4,"v":0.025},{"e":-7.0,"v":0.03},{"e":-6.6,"v":0.025},{"e":-6.2,"v":0.02},{"e":-5.8,"v":0.022},{"e":-5.4,"v":0.018},{"e":-5.0,"v":0.02},{"e":-4.6,"v":0.015},{"e":-4.2,"v":0.015},{"e":-3.8,"v":0.018},{"e":-3.4,"v":0.015},{"e":-3.0,"v":0.025},{"e":-2.7,"v":0.02},{"e":-2.4,"v":0.015},{"e":-2.0,"v":0.012},{"e":-1.5,"v":0.01},{"e":-1.0,"v":0.008},{"e":-0.5,"v":0.006},{"e":0,"v":0},{"e":1.56,"v":0},{"e":2.0,"v":0.01},{"e":2.5,"v":0.015},{"e":3.0,"v":0.012},{"e":3.5,"v":0.02},{"e":4.0,"v":0.025}],
"c_b5_d": [{"e":-16,"v":0},{"e":-15.6,"v":0.003},{"e":-15.27,"v":0.013},{"e":-15.05,"v":0.03},{"e":-14.84,"v":0.052},{"e":-14.75,"v":0.038},{"e":-14.67,"v":0},{"e":-13.23,"v":0},{"e":-13.02,"v":0.013},{"e":-12.8,"v":0.038},{"e":-12.63,"v":0.055},{"e":-12.48,"v":0.03},{"e":-12.27,"v":0.025},{"e":-11.95,"v":0.035},{"e":-11.52,"v":0.042},{"e":-11.2,"v":0.052},{"e":-10.88,"v":0.042},{"e":-10.55,"v":0.03},{"e":-10.23,"v":0.022},{"e":-9.91,"v":0.025},{"e":-9.59,"v":0.042},{"e":-9.42,"v":0.055},{"e":-9.27,"v":0.03},{"e":-9.05,"v":0.025},{"e":-8.78,"v":0.055},{"e":-8.52,"v":0.063},{"e":-8.26,"v":0.072},{"e":-7.98,"v":0.067},{"e":-7.66,"v":0.058},{"e":-7.38,"v":0.075},{"e":-7.13,"v":0.067},{"e":-6.8,"v":0.088},{"e":-6.59,"v":0.075},{"e":-6.38,"v":0.097},{"e":-6.16,"v":0.085},{"e":-5.95,"v":0.113},{"e":-5.73,"v":0.097},{"e":-5.52,"v":0.105},{"e":-5.3,"v":0.13},{"e":-5.13,"v":0.138},{"e":-4.98,"v":0.122},{"e":-4.83,"v":0.138},{"e":-4.66,"v":0.122},{"e":-4.49,"v":0.142},{"e":-4.34,"v":0.155},{"e":-4.19,"v":0.172},{"e":-4.02,"v":0.158},{"e":-3.85,"v":0.188},{"e":-3.7,"v":0.172},{"e":-3.55,"v":0.205},{"e":-3.37,"v":0.18},{"e":-3.22,"v":0.213},{"e":-3.09,"v":0.172},{"e":-2.95,"v":0.163},{"e":-2.78,"v":0.142},{"e":-2.62,"v":0.13},{"e":-2.47,"v":0.122},{"e":-2.3,"v":0.147},{"e":-2.13,"v":0.172},{"e":-1.98,"v":0.147},{"e":-1.83,"v":0.172},{"e":-1.66,"v":0.188},{"e":-1.49,"v":0.172},{"e":-1.34,"v":0.197},{"e":-1.17,"v":0.205},{"e":-1.02,"v":0.208},{"e":-0.84,"v":0.197},{"e":-0.7,"v":0.23},{"e":-0.59,"v":0.288},{"e":-0.48,"v":0.238},{"e":-0.33,"v":0.188},{"e":-0.2,"v":0.105},{"e":0,"v":0},{"e":1.56,"v":0},{"e":1.77,"v":0.055},{"e":1.99,"v":0.105},{"e":2.12,"v":0.147},{"e":2.2,"v":0.238},{"e":2.31,"v":0.138},{"e":2.46,"v":0.122},{"e":2.63,"v":0.072},{"e":2.78,"v":0.122},{"e":2.91,"v":0.055},{"e":3.06,"v":0.122},{"e":3.2,"v":0.088},{"e":3.34,"v":0.172},{"e":3.49,"v":0.122},{"e":3.66,"v":0.097},{"e":3.81,"v":0.155},{"e":3.96,"v":0.147},{"e":4,"v":0.14}],
"c_b5_t": [{"e":-16,"v":0},{"e":-15.5,"v":0.005},{"e":-15.1,"v":0.02},{"e":-14.85,"v":0.045},{"e":-14.7,"v":0.02},{"e":-14.67,"v":0},{"e":-13.2,"v":0},{"e":-12.9,"v":0.035},{"e":-12.7,"v":0.065},{"e":-12.5,"v":0.035},{"e":-12.2,"v":0.025},{"e":-11.8,"v":0.03},{"e":-11.4,"v":0.04},{"e":-11.0,"v":0.035},{"e":-10.6,"v":0.025},{"e":-10.2,"v":0.02},{"e":-9.8,"v":0.03},{"e":-9.5,"v":0.045},{"e":-9.3,"v":0.035},{"e":-9.0,"v":0.025},{"e":-8.6,"v":0.03},{"e":-8.2,"v":0.035},{"e":-7.8,"v":0.03},{"e":-7.4,"v":0.035},{"e":-7.0,"v":0.04},{"e":-6.6,"v":0.035},{"e":-6.2,"v":0.03},{"e":-5.8,"v":0.025},{"e":-5.4,"v":0.02},{"e":-5.0,"v":0.018},{"e":-4.6,"v":0.015},{"e":-4.2,"v":0.02},{"e":-3.8,"v":0.03},{"e":-3.5,"v":0.038},{"e":-3.3,"v":0.04},{"e":-3.0,"v":0.035},{"e":-2.6,"v":0.025},{"e":-2.2,"v":0.02},{"e":-1.8,"v":0.018},{"e":-1.4,"v":0.015},{"e":-1.0,"v":0.012},{"e":-0.6,"v":0.01},{"e":-0.3,"v":0.012},{"e":0,"v":0},{"e":1.56,"v":0},{"e":1.8,"v":0.02},{"e":2.0,"v":0.04},{"e":2.2,"v":0.05},{"e":2.35,"v":0.03},{"e":2.6,"v":0.01},{"e":2.8,"v":0.005},{"e":3.0,"v":0.01},{"e":3.3,"v":0.02},{"e":3.6,"v":0.022},{"e":4.0,"v":0.025}]
},
"vconcat": [
{"title": {"text": "(a)", "anchor": "start", "dx": -30, "offset": 20}, "spacing": 0, "bounds": "flush", "vconcat": [
 {"width": 311, "height": 80, "resolve": {"axis": {"x": "independent", "y": "independent"}}, "layer": [
  {"data": {"name": "a_tot"}, "mark": {"type": "line", "clip": true, "stroke": "black", "strokeWidth": 1.3},
   "encoding": {"x": {"field": "e", "type": "quantitative", "scale": {"domain": [-16, 4], "nice": false, "zero": false}, "axis": {"orient": "bottom", "values": [-15, -10, -5, 0], "tickSize": -5, "labels": false, "title": null}},
                "y": {"field": "v", "type": "quantitative", "scale": {"domain": [0, 0.6], "nice": false}, "axis": {"orient": "left", "values": [0, 0.2, 0.4], "tickSize": -5, "labelPadding": 9, "format": ".1f", "title": null}}}},
  {"data": {"values": [{}]}, "mark": {"type": "rule", "stroke": "black", "strokeWidth": 1.2},
   "encoding": {"x": {"datum": 0, "type": "quantitative", "scale": {"domain": [-16, 4], "nice": false, "zero": false}, "axis": {"orient": "top", "values": [-15, -10, -5, 0], "tickSize": -5, "labels": false, "title": null}},
                "y": {"datum": 0, "type": "quantitative", "scale": {"domain": [0, 0.6], "nice": false}, "axis": {"orient": "right", "values": [0.2, 0.4], "tickSize": -5, "labels": false, "title": null}}, "y2": {"datum": 0.6}}},
  {"data": {"values": [{"t": "total"}]}, "mark": {"type": "text", "align": "left", "baseline": "middle", "fontSize": 12},
   "encoding": {"text": {"field": "t"}, "x": {"datum": -13.77, "type": "quantitative", "scale": {"domain": [-16, 4], "nice": false, "zero": false}, "axis": {"orient": "bottom", "values": [-16,-15,-14,-13,-12,-11,-10,-9,-8,-7,-6,-5,-4,-3,-2,-1,0,1,2,3,4], "tickSize": -3, "labels": false, "title": null}},
                "y": {"datum": 0.45, "type": "quantitative", "scale": {"domain": [0, 0.6], "nice": false}, "axis": {"orient": "left", "values": [0.1, 0.3, 0.5], "tickSize": -3, "labels": false, "title": null}}}},
  {"data": {"values": [{"t": "MgB₇"}]}, "mark": {"type": "text", "align": "left", "baseline": "middle", "fontSize": 13},
   "encoding": {"text": {"field": "t"}, "x": {"datum": -7.13, "type": "quantitative", "scale": {"domain": [-16, 4], "nice": false, "zero": false}, "axis": {"orient": "top", "values": [-16,-15,-14,-13,-12,-11,-10,-9,-8,-7,-6,-5,-4,-3,-2,-1,0,1,2,3,4], "tickSize": -3, "labels": false, "title": null}},
                "y": {"datum": 0.46, "type": "quantitative", "scale": {"domain": [0, 0.6], "nice": false}, "axis": {"orient": "right", "values": [0.1, 0.3, 0.5], "tickSize": -3, "labels": false, "title": null}}}}
 ]},
 {"width": 311, "height": 80, "resolve": {"axis": {"x": "independent", "y": "independent"}}, "layer": [
  {"data": {"name": "a_b12_d"}, "mark": {"type": "line", "clip": true, "stroke": "black", "strokeWidth": 1.1, "strokeDash": [4, 2]},
   "encoding": {"x": {"field": "e", "type": "quantitative", "scale": {"domain": [-16, 4], "nice": false, "zero": false}, "axis": {"orient": "bottom", "values": [-15, -10, -5, 0], "tickSize": -5, "labels": false, "title": null}},
                "y": {"field": "v", "type": "quantitative", "scale": {"domain": [0, 0.4], "nice": false}, "axis": {"orient": "left", "values": [0, 0.2], "tickSize": -5, "labelPadding": 9, "format": ".1f", "title": "DOS (states/eV per atom)", "titlePadding": 3}}}},
  {"data": {"name": "a_b12_t"}, "mark": {"type": "line", "clip": true, "stroke": "#777777", "strokeWidth": 1, "strokeDash": [1, 1.5]},
   "encoding": {"x": {"field": "e", "type": "quantitative", "scale": {"domain": [-16, 4], "nice": false, "zero": false}, "axis": {"orient": "top", "values": [-15, -10, -5, 0], "tickSize": -5, "labels": false, "title": null}},
                "y": {"field": "v", "type": "quantitative", "scale": {"domain": [0, 0.4], "nice": false}, "axis": {"orient": "right", "values": [0.2], "tickSize": -5, "labels": false, "title": null}}}},
  {"data": {"values": [{}]}, "mark": {"type": "rule", "stroke": "black", "strokeWidth": 1.2},
   "encoding": {"x": {"datum": 0, "type": "quantitative", "scale": {"domain": [-16, 4], "nice": false, "zero": false}, "axis": {"orient": "bottom", "values": [-16,-15,-14,-13,-12,-11,-10,-9,-8,-7,-6,-5,-4,-3,-2,-1,0,1,2,3,4], "tickSize": -3, "labels": false, "title": null}},
                "y": {"datum": 0, "type": "quantitative", "scale": {"domain": [0, 0.4], "nice": false}, "axis": {"orient": "left", "values": [0.1, 0.3], "tickSize": -3, "labels": false, "title": null}}, "y2": {"datum": 0.4}}},
  {"data": {"values": [{"t": "B₁₂"}]}, "mark": {"type": "text", "align": "left", "baseline": "middle", "fontSize": 12},
   "encoding": {"text": {"field": "t"}, "x": {"datum": -13.77, "type": "quantitative", "scale": {"domain": [-16, 4], "nice": false, "zero": false}, "axis": {"orient": "top", "values": [-16,-15,-14,-13,-12,-11,-10,-9,-8,-7,-6,-5,-4,-3,-2,-1,0,1,2,3,4], "tickSize": -3, "labels": false, "title": null}},
                "y": {"datum": 0.31, "type": "quantitative", "scale": {"domain": [0, 0.4], "nice": false}, "axis": {"orient": "right", "values": [0.1, 0.3], "tickSize": -3, "labels": false, "title": null}}}}
 ]},
 {"width": 311, "height": 80, "resolve": {"scale": {"x": "independent", "y": "independent"}, "axis": {"x": "independent", "y": "independent"}}, "layer": [
  {"resolve": {"axis": {"x": "independent", "y": "independent"}}, "layer": [
   {"data": {"name": "a_b5_d"}, "mark": {"type": "line", "clip": true, "stroke": "black", "strokeWidth": 1.1, "strokeDash": [4, 2]},
    "encoding": {"x": {"field": "e", "type": "quantitative", "scale": {"domain": [-16, 4], "nice": false, "zero": false}, "axis": {"orient": "bottom", "values": [-15, -10, -5, 0], "tickSize": -5, "labelPadding": 7, "labelFlush": false, "title": "energy (eV)", "titlePadding": 5}},
                 "y": {"field": "v", "type": "quantitative", "scale": {"domain": [0, 0.4], "nice": false}, "axis": {"orient": "left", "values": [0, 0.2], "tickSize": -5, "labelPadding": 9, "format": ".1f", "title": null}}}},
   {"data": {"name": "a_b5_t"}, "mark": {"type": "line", "clip": true, "stroke": "#777777", "strokeWidth": 1, "strokeDash": [1, 1.5]},
    "encoding": {"x": {"field": "e", "type": "quantitative", "scale": {"domain": [-16, 4], "nice": false, "zero": false}, "axis": {"orient": "top", "values": [-15, -10, -5, 0], "tickSize": -5, "labels": false, "title": null}},
                 "y": {"field": "v", "type": "quantitative", "scale": {"domain": [0, 0.4], "nice": false}, "axis": {"orient": "right", "values": [0.2], "tickSize": -5, "labels": false, "title": null}}}},
   {"data": {"values": [{}]}, "mark": {"type": "rule", "stroke": "black", "strokeWidth": 1.2},
    "encoding": {"x": {"datum": 0, "type": "quantitative", "scale": {"domain": [-16, 4], "nice": false, "zero": false}, "axis": {"orient": "bottom", "values": [-16,-15,-14,-13,-12,-11,-10,-9,-8,-7,-6,-5,-4,-3,-2,-1,0,1,2,3,4], "tickSize": -3, "labels": false, "title": null}},
                 "y": {"datum": 0, "type": "quantitative", "scale": {"domain": [0, 0.4], "nice": false}, "axis": {"orient": "left", "values": [0.1, 0.3], "tickSize": -3, "labels": false, "title": null}}, "y2": {"datum": 0.4}}},
   {"data": {"values": [{"t": "B(5)"}]}, "mark": {"type": "text", "align": "left", "baseline": "middle", "fontSize": 12},
    "encoding": {"text": {"field": "t"}, "x": {"datum": -13.77, "type": "quantitative", "scale": {"domain": [-16, 4], "nice": false, "zero": false}, "axis": {"orient": "top", "values": [-16,-15,-14,-13,-12,-11,-10,-9,-8,-7,-6,-5,-4,-3,-2,-1,0,1,2,3,4], "tickSize": -3, "labels": false, "title": null}},
                 "y": {"datum": 0.3, "type": "quantitative", "scale": {"domain": [0, 0.4], "nice": false}, "axis": {"orient": "right", "values": [0.1, 0.3], "tickSize": -3, "labels": false, "title": null}}}}
  ]},
  {"layer": [
   {"data": {"values": [{}]}, "mark": {"type": "rect", "fill": "white", "stroke": "black", "strokeWidth": 1},
    "encoding": {"x": {"datum": -2, "type": "quantitative", "scale": {"domain": [-2, 0], "range": [130, 171], "nice": false, "zero": false}, "axis": {"orient": "bottom", "offset": -38, "values": [-2, -1, 0], "format": "d", "tickSize": -3, "labelPadding": 5, "labelFlush": false, "labelOverlap": false, "title": null}},
                 "x2": {"datum": 0},
                 "y": {"datum": 0.2, "type": "quantitative", "scale": {"domain": [0.2, 0.8], "range": [42, 12], "nice": false, "zero": false}, "axis": {"orient": "left", "offset": -130, "values": [0.4, 0.8], "tickSize": -3, "labelPadding": 6, "format": ".1f", "labelOverlap": false, "title": null}},
                 "y2": {"datum": 0.8}}},
   {"data": {"name": "a_inset"}, "mark": {"type": "line", "clip": false, "stroke": "black", "strokeWidth": 1, "strokeDash": [3, 1.5]},
    "encoding": {"x": {"field": "e", "type": "quantitative", "scale": {"domain": [-2, 0], "range": [130, 171], "nice": false, "zero": false}, "axis": {"orient": "bottom", "offset": -38, "values": [-2, -1, 0], "format": "d", "tickSize": -3, "labelPadding": 5, "labelFlush": false, "labelOverlap": false, "title": null}},
                 "y": {"field": "v", "type": "quantitative", "scale": {"domain": [0.2, 0.8], "range": [42, 12], "nice": false, "zero": false}, "axis": {"orient": "left", "offset": -130, "values": [0.4, 0.8], "tickSize": -3, "labelPadding": 6, "format": ".1f", "labelOverlap": false, "title": null}}}}
  ]}
 ]}
]},
{"title": {"text": "(b)", "anchor": "start", "dx": -30, "offset": 20}, "spacing": 0, "bounds": "flush", "vconcat": [
 {"width": 311, "height": 80, "resolve": {"axis": {"x": "independent", "y": "independent"}}, "layer": [
  {"data": {"name": "b_tot"}, "mark": {"type": "line", "clip": true, "stroke": "black", "strokeWidth": 1.3},
   "encoding": {"x": {"field": "e", "type": "quantitative", "scale": {"domain": [-16, 4], "nice": false, "zero": false}, "axis": {"orient": "bottom", "values": [-15, -10, -5, 0], "tickSize": -5, "labels": false, "title": null}},
                "y": {"field": "v", "type": "quantitative", "scale": {"domain": [0, 0.6], "nice": false}, "axis": {"orient": "left", "values": [0, 0.2, 0.4], "tickSize": -5, "labelPadding": 9, "format": ".1f", "title": null}}}},
  {"data": {"values": [{}]}, "mark": {"type": "rule", "stroke": "black", "strokeWidth": 1.2},
   "encoding": {"x": {"datum": 0, "type": "quantitative", "scale": {"domain": [-16, 4], "nice": false, "zero": false}, "axis": {"orient": "top", "values": [-15, -10, -5, 0], "tickSize": -5, "labels": false, "title": null}},
                "y": {"datum": 0, "type": "quantitative", "scale": {"domain": [0, 0.6], "nice": false}, "axis": {"orient": "right", "values": [0.2, 0.4], "tickSize": -5, "labels": false, "title": null}}, "y2": {"datum": 0.6}}},
  {"data": {"values": [{"t": "total"}]}, "mark": {"type": "text", "align": "left", "baseline": "middle", "fontSize": 12},
   "encoding": {"text": {"field": "t"}, "x": {"datum": -13.77, "type": "quantitative", "scale": {"domain": [-16, 4], "nice": false, "zero": false}, "axis": {"orient": "bottom", "values": [-16,-15,-14,-13,-12,-11,-10,-9,-8,-7,-6,-5,-4,-3,-2,-1,0,1,2,3,4], "tickSize": -3, "labels": false, "title": null}},
                "y": {"datum": 0.45, "type": "quantitative", "scale": {"domain": [0, 0.6], "nice": false}, "axis": {"orient": "left", "values": [0.1, 0.3, 0.5], "tickSize": -3, "labels": false, "title": null}}}},
  {"data": {"values": [{"t": "o-MgB₁₂C₂"}]}, "mark": {"type": "text", "align": "left", "baseline": "middle", "fontSize": 13},
   "encoding": {"text": {"field": "t"}, "x": {"datum": -8.41, "type": "quantitative", "scale": {"domain": [-16, 4], "nice": false, "zero": false}, "axis": {"orient": "top", "values": [-16,-15,-14,-13,-12,-11,-10,-9,-8,-7,-6,-5,-4,-3,-2,-1,0,1,2,3,4], "tickSize": -3, "labels": false, "title": null}},
                "y": {"datum": 0.46, "type": "quantitative", "scale": {"domain": [0, 0.6], "nice": false}, "axis": {"orient": "right", "values": [0.1, 0.3, 0.5], "tickSize": -3, "labels": false, "title": null}}}}
 ]},
 {"width": 311, "height": 80, "resolve": {"axis": {"x": "independent", "y": "independent"}}, "layer": [
  {"data": {"name": "b_b12_d"}, "mark": {"type": "line", "clip": true, "stroke": "black", "strokeWidth": 1.1, "strokeDash": [4, 2]},
   "encoding": {"x": {"field": "e", "type": "quantitative", "scale": {"domain": [-16, 4], "nice": false, "zero": false}, "axis": {"orient": "bottom", "values": [-15, -10, -5, 0], "tickSize": -5, "labels": false, "title": null}},
                "y": {"field": "v", "type": "quantitative", "scale": {"domain": [0, 0.4], "nice": false}, "axis": {"orient": "left", "values": [0, 0.2], "tickSize": -5, "labelPadding": 9, "format": ".1f", "title": "DOS (states/eV per atom)", "titlePadding": 3}}}},
  {"data": {"name": "b_b12_t"}, "mark": {"type": "line", "clip": true, "stroke": "#777777", "strokeWidth": 1, "strokeDash": [1, 1.5]},
   "encoding": {"x": {"field": "e", "type": "quantitative", "scale": {"domain": [-16, 4], "nice": false, "zero": false}, "axis": {"orient": "top", "values": [-15, -10, -5, 0], "tickSize": -5, "labels": false, "title": null}},
                "y": {"field": "v", "type": "quantitative", "scale": {"domain": [0, 0.4], "nice": false}, "axis": {"orient": "right", "values": [0.2], "tickSize": -5, "labels": false, "title": null}}}},
  {"data": {"values": [{}]}, "mark": {"type": "rule", "stroke": "black", "strokeWidth": 1.2},
   "encoding": {"x": {"datum": 0, "type": "quantitative", "scale": {"domain": [-16, 4], "nice": false, "zero": false}, "axis": {"orient": "bottom", "values": [-16,-15,-14,-13,-12,-11,-10,-9,-8,-7,-6,-5,-4,-3,-2,-1,0,1,2,3,4], "tickSize": -3, "labels": false, "title": null}},
                "y": {"datum": 0, "type": "quantitative", "scale": {"domain": [0, 0.4], "nice": false}, "axis": {"orient": "left", "values": [0.1, 0.3], "tickSize": -3, "labels": false, "title": null}}, "y2": {"datum": 0.4}}},
  {"data": {"values": [{"t": "B₁₂"}]}, "mark": {"type": "text", "align": "left", "baseline": "middle", "fontSize": 12},
   "encoding": {"text": {"field": "t"}, "x": {"datum": -13.77, "type": "quantitative", "scale": {"domain": [-16, 4], "nice": false, "zero": false}, "axis": {"orient": "top", "values": [-16,-15,-14,-13,-12,-11,-10,-9,-8,-7,-6,-5,-4,-3,-2,-1,0,1,2,3,4], "tickSize": -3, "labels": false, "title": null}},
                "y": {"datum": 0.317, "type": "quantitative", "scale": {"domain": [0, 0.4], "nice": false}, "axis": {"orient": "right", "values": [0.1, 0.3], "tickSize": -3, "labels": false, "title": null}}}}
 ]},
 {"width": 311, "height": 80, "resolve": {"axis": {"x": "independent", "y": "independent"}}, "layer": [
  {"data": {"name": "b_c_d"}, "mark": {"type": "line", "clip": true, "stroke": "black", "strokeWidth": 1.1, "strokeDash": [4, 2]},
   "encoding": {"x": {"field": "e", "type": "quantitative", "scale": {"domain": [-16, 4], "nice": false, "zero": false}, "axis": {"orient": "bottom", "values": [-15, -10, -5, 0], "tickSize": -5, "labelPadding": 7, "labelFlush": false, "title": "energy (eV)", "titlePadding": 5}},
                "y": {"field": "v", "type": "quantitative", "scale": {"domain": [0, 0.4], "nice": false}, "axis": {"orient": "left", "values": [0, 0.2], "tickSize": -5, "labelPadding": 9, "format": ".1f", "title": null}}}},
  {"data": {"name": "b_c_t"}, "mark": {"type": "line", "clip": true, "stroke": "#777777", "strokeWidth": 1, "strokeDash": [1, 1.5]},
   "encoding": {"x": {"field": "e", "type": "quantitative", "scale": {"domain": [-16, 4], "nice": false, "zero": false}, "axis": {"orient": "top", "values": [-15, -10, -5, 0], "tickSize": -5, "labels": false, "title": null}},
                "y": {"field": "v", "type": "quantitative", "scale": {"domain": [0, 0.4], "nice": false}, "axis": {"orient": "right", "values": [0.2], "tickSize": -5, "labels": false, "title": null}}}},
  {"data": {"values": [{}]}, "mark": {"type": "rule", "stroke": "black", "strokeWidth": 1.2},
   "encoding": {"x": {"datum": 0, "type": "quantitative", "scale": {"domain": [-16, 4], "nice": false, "zero": false}, "axis": {"orient": "bottom", "values": [-16,-15,-14,-13,-12,-11,-10,-9,-8,-7,-6,-5,-4,-3,-2,-1,0,1,2,3,4], "tickSize": -3, "labels": false, "title": null}},
                "y": {"datum": 0, "type": "quantitative", "scale": {"domain": [0, 0.4], "nice": false}, "axis": {"orient": "left", "values": [0.1, 0.3], "tickSize": -3, "labels": false, "title": null}}, "y2": {"datum": 0.4}}},
  {"data": {"values": [{"t": "C"}]}, "mark": {"type": "text", "align": "left", "baseline": "middle", "fontSize": 12},
   "encoding": {"text": {"field": "t"}, "x": {"datum": -13.77, "type": "quantitative", "scale": {"domain": [-16, 4], "nice": false, "zero": false}, "axis": {"orient": "top", "values": [-16,-15,-14,-13,-12,-11,-10,-9,-8,-7,-6,-5,-4,-3,-2,-1,0,1,2,3,4], "tickSize": -3, "labels": false, "title": null}},
                "y": {"datum": 0.31, "type": "quantitative", "scale": {"domain": [0, 0.4], "nice": false}, "axis": {"orient": "right", "values": [0.1, 0.3], "tickSize": -3, "labels": false, "title": null}}}}
 ]}
]},
{"title": {"text": "(c)", "anchor": "start", "dx": -30, "offset": 20}, "spacing": 0, "bounds": "flush", "vconcat": [
 {"width": 311, "height": 80, "resolve": {"axis": {"x": "independent", "y": "independent"}}, "layer": [
  {"data": {"name": "c_tot"}, "mark": {"type": "line", "clip": true, "stroke": "black", "strokeWidth": 1.3},
   "encoding": {"x": {"field": "e", "type": "quantitative", "scale": {"domain": [-16, 4], "nice": false, "zero": false}, "axis": {"orient": "bottom", "values": [-15, -10, -5, 0], "tickSize": -5, "labels": false, "title": null}},
                "y": {"field": "v", "type": "quantitative", "scale": {"domain": [0, 0.6], "nice": false}, "axis": {"orient": "left", "values": [0, 0.2, 0.4], "tickSize": -5, "labelPadding": 9, "format": ".1f", "title": null}}}},
  {"data": {"values": [{}]}, "mark": {"type": "rule", "stroke": "black", "strokeWidth": 1.2},
   "encoding": {"x": {"datum": 0, "type": "quantitative", "scale": {"domain": [-16, 4], "nice": false, "zero": false}, "axis": {"orient": "top", "values": [-15, -10, -5, 0], "tickSize": -5, "labels": false, "title": null}},
                "y": {"datum": 0, "type": "quantitative", "scale": {"domain": [0, 0.6], "nice": false}, "axis": {"orient": "right", "values": [0.2, 0.4], "tickSize": -5, "labels": false, "title": null}}, "y2": {"datum": 0.6}}},
  {"data": {"values": [{"t": "total"}]}, "mark": {"type": "text", "align": "left", "baseline": "middle", "fontSize": 12},
   "encoding": {"text": {"field": "t"}, "x": {"datum": -13.77, "type": "quantitative", "scale": {"domain": [-16, 4], "nice": false, "zero": false}, "axis": {"orient": "bottom", "values": [-16,-15,-14,-13,-12,-11,-10,-9,-8,-7,-6,-5,-4,-3,-2,-1,0,1,2,3,4], "tickSize": -3, "labels": false, "title": null}},
                "y": {"datum": 0.45, "type": "quantitative", "scale": {"domain": [0, 0.6], "nice": false}, "axis": {"orient": "left", "values": [0.1, 0.3, 0.5], "tickSize": -3, "labels": false, "title": null}}}},
  {"data": {"values": [{"t": "γ-B₂₈"}]}, "mark": {"type": "text", "align": "left", "baseline": "middle", "fontSize": 13},
   "encoding": {"text": {"field": "t"}, "x": {"datum": -7.13, "type": "quantitative", "scale": {"domain": [-16, 4], "nice": false, "zero": false}, "axis": {"orient": "top", "values": [-16,-15,-14,-13,-12,-11,-10,-9,-8,-7,-6,-5,-4,-3,-2,-1,0,1,2,3,4], "tickSize": -3, "labels": false, "title": null}},
                "y": {"datum": 0.46, "type": "quantitative", "scale": {"domain": [0, 0.6], "nice": false}, "axis": {"orient": "right", "values": [0.1, 0.3, 0.5], "tickSize": -3, "labels": false, "title": null}}}}
 ]},
 {"width": 311, "height": 80, "resolve": {"axis": {"x": "independent", "y": "independent"}}, "layer": [
  {"data": {"name": "c_b12_d"}, "mark": {"type": "line", "clip": true, "stroke": "black", "strokeWidth": 1.1, "strokeDash": [4, 2]},
   "encoding": {"x": {"field": "e", "type": "quantitative", "scale": {"domain": [-16, 4], "nice": false, "zero": false}, "axis": {"orient": "bottom", "values": [-15, -10, -5, 0], "tickSize": -5, "labels": false, "title": null}},
                "y": {"field": "v", "type": "quantitative", "scale": {"domain": [0, 0.4], "nice": false}, "axis": {"orient": "left", "values": [0, 0.2], "tickSize": -5, "labelPadding": 9, "format": ".1f", "title": "DOS (states/eV per atom)", "titlePadding": 3}}}},
  {"data": {"name": "c_b12_t"}, "mark": {"type": "line", "clip": true, "stroke": "#777777", "strokeWidth": 1, "strokeDash": [1, 1.5]},
   "encoding": {"x": {"field": "e", "type": "quantitative", "scale": {"domain": [-16, 4], "nice": false, "zero": false}, "axis": {"orient": "top", "values": [-15, -10, -5, 0], "tickSize": -5, "labels": false, "title": null}},
                "y": {"field": "v", "type": "quantitative", "scale": {"domain": [0, 0.4], "nice": false}, "axis": {"orient": "right", "values": [0.2], "tickSize": -5, "labels": false, "title": null}}}},
  {"data": {"values": [{}]}, "mark": {"type": "rule", "stroke": "black", "strokeWidth": 1.2},
   "encoding": {"x": {"datum": 0, "type": "quantitative", "scale": {"domain": [-16, 4], "nice": false, "zero": false}, "axis": {"orient": "bottom", "values": [-16,-15,-14,-13,-12,-11,-10,-9,-8,-7,-6,-5,-4,-3,-2,-1,0,1,2,3,4], "tickSize": -3, "labels": false, "title": null}},
                "y": {"datum": 0, "type": "quantitative", "scale": {"domain": [0, 0.4], "nice": false}, "axis": {"orient": "left", "values": [0.1, 0.3], "tickSize": -3, "labels": false, "title": null}}, "y2": {"datum": 0.4}}},
  {"data": {"values": [{"t": "B₁₂"}]}, "mark": {"type": "text", "align": "left", "baseline": "middle", "fontSize": 12},
   "encoding": {"text": {"field": "t"}, "x": {"datum": -13.77, "type": "quantitative", "scale": {"domain": [-16, 4], "nice": false, "zero": false}, "axis": {"orient": "top", "values": [-16,-15,-14,-13,-12,-11,-10,-9,-8,-7,-6,-5,-4,-3,-2,-1,0,1,2,3,4], "tickSize": -3, "labels": false, "title": null}},
                "y": {"datum": 0.312, "type": "quantitative", "scale": {"domain": [0, 0.4], "nice": false}, "axis": {"orient": "right", "values": [0.1, 0.3], "tickSize": -3, "labels": false, "title": null}}}}
 ]},
 {"width": 311, "height": 80, "resolve": {"axis": {"x": "independent", "y": "independent"}}, "layer": [
  {"data": {"name": "c_b5_d"}, "mark": {"type": "line", "clip": true, "stroke": "black", "strokeWidth": 1.1, "strokeDash": [4, 2]},
   "encoding": {"x": {"field": "e", "type": "quantitative", "scale": {"domain": [-16, 4], "nice": false, "zero": false}, "axis": {"orient": "bottom", "values": [-15, -10, -5, 0], "tickSize": -5, "labelPadding": 7, "labelFlush": false, "title": "energy (eV)", "titlePadding": 5}},
                "y": {"field": "v", "type": "quantitative", "scale": {"domain": [0, 0.4], "nice": false}, "axis": {"orient": "left", "values": [0, 0.2], "tickSize": -5, "labelPadding": 9, "format": ".1f", "title": null}}}},
  {"data": {"name": "c_b5_t"}, "mark": {"type": "line", "clip": true, "stroke": "#777777", "strokeWidth": 1, "strokeDash": [1, 1.5]},
   "encoding": {"x": {"field": "e", "type": "quantitative", "scale": {"domain": [-16, 4], "nice": false, "zero": false}, "axis": {"orient": "top", "values": [-15, -10, -5, 0], "tickSize": -5, "labels": false, "title": null}},
                "y": {"field": "v", "type": "quantitative", "scale": {"domain": [0, 0.4], "nice": false}, "axis": {"orient": "right", "values": [0.2], "tickSize": -5, "labels": false, "title": null}}}},
  {"data": {"values": [{}]}, "mark": {"type": "rule", "stroke": "black", "strokeWidth": 1.2},
   "encoding": {"x": {"datum": 0, "type": "quantitative", "scale": {"domain": [-16, 4], "nice": false, "zero": false}, "axis": {"orient": "bottom", "values": [-16,-15,-14,-13,-12,-11,-10,-9,-8,-7,-6,-5,-4,-3,-2,-1,0,1,2,3,4], "tickSize": -3, "labels": false, "title": null}},
                "y": {"datum": 0, "type": "quantitative", "scale": {"domain": [0, 0.4], "nice": false}, "axis": {"orient": "left", "values": [0.1, 0.3], "tickSize": -3, "labels": false, "title": null}}, "y2": {"datum": 0.4}}},
  {"data": {"values": [{"t": "B(5)"}]}, "mark": {"type": "text", "align": "left", "baseline": "middle", "fontSize": 12},
   "encoding": {"text": {"field": "t"}, "x": {"datum": -13.77, "type": "quantitative", "scale": {"domain": [-16, 4], "nice": false, "zero": false}, "axis": {"orient": "top", "values": [-16,-15,-14,-13,-12,-11,-10,-9,-8,-7,-6,-5,-4,-3,-2,-1,0,1,2,3,4], "tickSize": -3, "labels": false, "title": null}},
                "y": {"datum": 0.305, "type": "quantitative", "scale": {"domain": [0, 0.4], "nice": false}, "axis": {"orient": "right", "values": [0.1, 0.3], "tickSize": -3, "labels": false, "title": null}}}}
 ]}
]}
]
}
